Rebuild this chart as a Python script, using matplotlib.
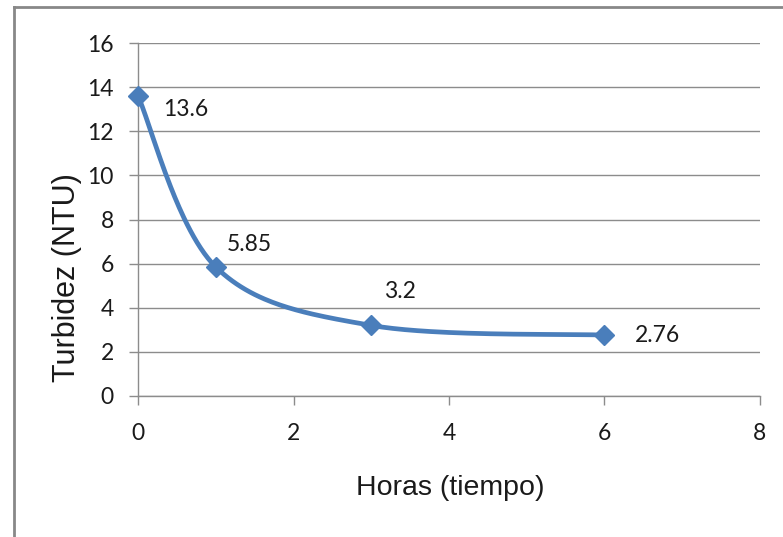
import numpy as np
import matplotlib
matplotlib.use("Agg")
import matplotlib.pyplot as plt
from matplotlib.lines import Line2D

hours = [0, 1, 3, 6]
turbidity = [13.6, 5.85, 3.2, 2.76]
labels = ["13.6", "5.85", "3.2", "2.76"]
label_offsets = [(18, -9.5), (8, 16), (9.5, 24.5), (22, 0)]  # points

plt.rcParams['font.family'] = ['Lato', 'DejaVu Sans']

def excel_smooth(xs, ys, n=60):
    P = np.column_stack([xs, ys]).astype(float)
    out = []
    for i in range(len(P) - 1):
        p0 = P[i - 1] if i > 0 else P[i]
        p1 = P[i]
        p2 = P[i + 1]
        p3 = P[i + 2] if i + 2 < len(P) else P[i + 1]
        c1 = p1 + (p2 - p0) / 6.0
        c2 = p2 - (p3 - p1) / 6.0
        t = np.linspace(0, 1, n)[:, None]
        seg = ((1 - t) ** 3) * p1 + 3 * ((1 - t) ** 2) * t * c1 + 3 * (1 - t) * t ** 2 * c2 + t ** 3 * p2
        out.append(seg if i == 0 else seg[1:])
    out = np.vstack(out)
    return out[:, 0], out[:, 1]

fig = plt.figure(figsize=(7.83, 5.37), dpi=100)
ax = fig.add_axes([138 / 783, 1 - 396 / 537, (760 - 138) / 783, (396 - 43) / 537])

blue = "#4A7EBB"
sx, sy = excel_smooth(hours, turbidity)
ax.plot(sx, sy, color=blue, lw=3.4, solid_capstyle="round", zorder=3, clip_on=False)
ax.plot(hours, turbidity, linestyle="none", marker="D", markersize=10.5,
        color=blue, zorder=4, clip_on=False)

for x, y, lab, off in zip(hours, turbidity, labels, label_offsets):
    ax.annotate(lab, (x, y), xytext=off, textcoords="offset points",
                ha="left", va="center", fontsize=16.5, color="#1a1a1a")

ax.set_xlim(0, 8)
ax.set_ylim(0, 16)
ax.set_xticks(range(0, 9, 2))
ax.set_yticks(range(0, 17, 2))
ax.grid(axis="y", color="#8c8c8c", lw=1.0)
ax.set_axisbelow(True)
for s in ["top", "right"]:
    ax.spines[s].set_visible(False)
for s in ["left", "bottom"]:
    ax.spines[s].set_color("#8c8c8c")
    ax.spines[s].set_linewidth(1.0)
ax.tick_params(axis="both", direction="out", length=6.3, width=1.0, color="#8c8c8c",
               labelsize=16.5, labelcolor="#1a1a1a")
ax.tick_params(axis="x", pad=13)
ax.tick_params(axis="y", pad=11)

ax.set_xlabel("Horas (tiempo)", fontsize=20.5, color="#1a1a1a",
              family=["Liberation Sans", "DejaVu Sans"], va="center", ha="center")
ax.xaxis.set_label_coords((450 - 138) / 622, (396 - 488) / 353)
ax.set_ylabel("Turbidez (NTU)", fontsize=22, color="#1a1a1a",
              family=["Liberation Sans", "DejaVu Sans"], va="center", ha="center")
ax.yaxis.set_label_coords((67 - 138) / 622, (396 - 278) / 353)

# outer chart border (partially visible)
fig.add_artist(Line2D([14 / 783, 14 / 783], [0, 1 - 7 / 537], transform=fig.transFigure,
                      color="#888888", lw=2))
fig.add_artist(Line2D([14 / 783, 1], [1 - 7 / 537, 1 - 7 / 537], transform=fig.transFigure,
                      color="#888888", lw=2))

fig.savefig("out.png", dpi=100)
